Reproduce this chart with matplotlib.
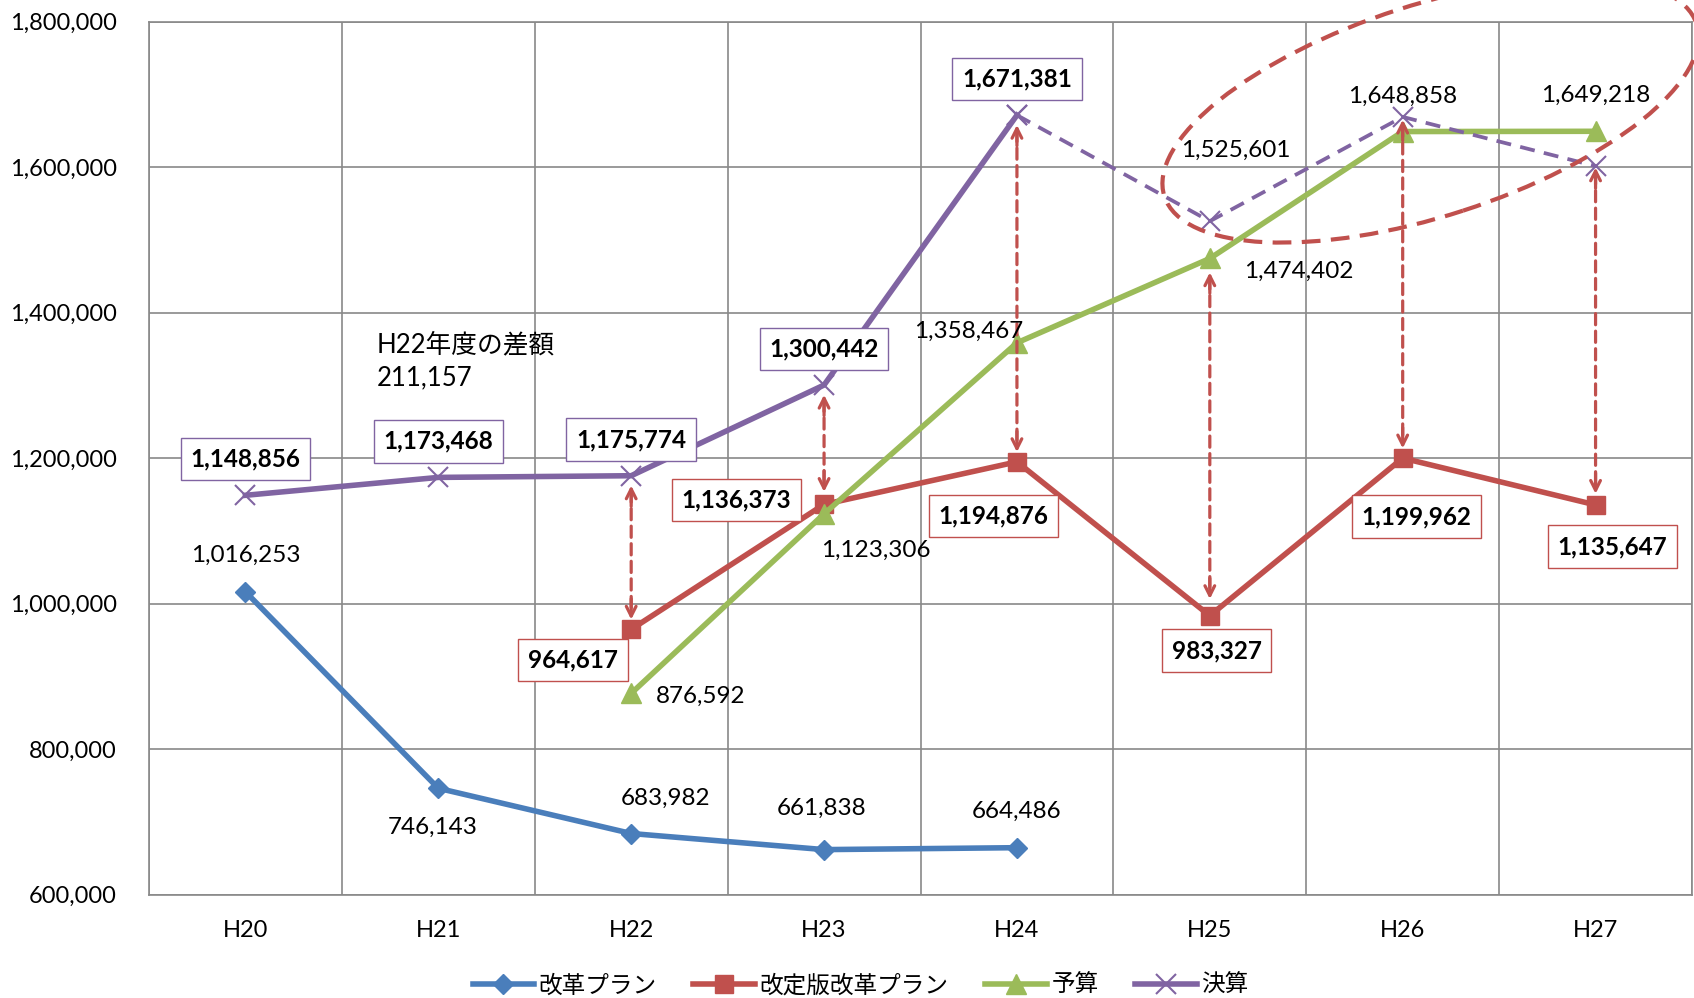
import numpy as np
import matplotlib
matplotlib.use("Agg")
import matplotlib.pyplot as plt
from matplotlib.patches import Ellipse
from matplotlib.lines import Line2D
from matplotlib.transforms import IdentityTransform

plt.rcParams['font.family'] = ['Lato', 'Noto Sans CJK JP', 'DejaVu Sans']

# fiscal years on the x axis
years = ['H20', 'H21', 'H22', 'H23', 'H24', 'H25', 'H26', 'H27']

# 改革プラン (H20-H24)
plan_x = [0, 1, 2, 3, 4]
plan = [1016253, 746143, 683982, 661838, 664486]

# 改定版改革プラン (H22-H27)
rev_x = [2, 3, 4, 5, 6, 7]
revised = [964617, 1136373, 1194876, 983327, 1199962, 1135647]

# 予算 (H22-H27)
bud_x = [2, 3, 4, 5, 6, 7]
budget = [876592, 1123306, 1358467, 1474402, 1648858, 1649218]

# 決算, settled (H20-H24) and projected (H24-H27)
act_x = [0, 1, 2, 3, 4]
actual = [1148856, 1173468, 1175774, 1300442, 1671381]
proj_x = [4, 5, 6, 7]
projected = [1671381, 1525601, 1669000, 1601400]

# gaps marked with double arrows: (x, upper value, lower value, gap top, gap bottom)
gaps = [
    (2, 1175774, 964617, 7, 7),
    (3, 1300442, 1136373, 7, 9),
    (4, 1671381, 1194876, 7, 7),
    (5, 1474402, 983327, 10, 12),
    (6, 1669000, 1199962, 2, 7),
    (7, 1601400, 1135647, 1, 8),
]

BLUE = '#4A7EBB'
RED = '#C0504D'
GREEN = '#9BBB59'
PURPLE = '#8064A2'
GRID = '#898989'
FS = 17
LFS = 17.5

fig = plt.figure(figsize=(16.94, 9.98), dpi=100)
ax = fig.add_axes([149 / 1694, 1 - 894.6 / 998, (1692 - 149) / 1694, (894.6 - 21.6) / 998])

ax.plot(plan_x, plan, color=BLUE, lw=4, marker='D', ms=10, zorder=3)
ax.plot(rev_x, revised, color=RED, lw=4, marker='s', ms=13, zorder=4)
ax.plot(bud_x, budget, color=GREEN, lw=4, marker='^', ms=14, zorder=5)
ax.plot(act_x, actual, color=PURPLE, lw=4, marker='x', ms=15, mew=1.5, zorder=6)
ax.plot(proj_x, projected, color=PURPLE, lw=2.7, ls=(0, (4, 2.5)), marker='x', ms=15, mew=1.5, zorder=6)

ax.set_xlim(-0.5, 7.5)
ax.set_ylim(600000, 1800000)
ax.set_xticks(range(len(years)))
ax.set_xticklabels(years, fontsize=FS)
ax.set_xticks(np.arange(-0.5, 8, 1), minor=True)
yt = np.arange(600000, 1800001, 200000)
ax.set_yticks(yt)
ax.set_yticklabels([f'{v:,}' for v in yt], fontsize=FS)
ax.tick_params(axis='both', which='both', length=0)
ax.tick_params(axis='y', pad=23)
ax.tick_params(axis='x', pad=18)
ax.grid(True, axis='y', color=GRID, lw=1.2)
ax.grid(True, axis='x', which='minor', color=GRID, lw=1.2)
ax.set_axisbelow(True)
for s in ax.spines.values():
    s.set_color(GRID)
    s.set_linewidth(1.2)


def label(x, y, dx, dy, color=None):
    kw = dict(xy=(x, y), xytext=(dx, dy), textcoords='offset points',
              ha='center', va='center', fontsize=LFS, zorder=10)
    if color:
        kw.update(fontweight='bold',
                  bbox=dict(boxstyle='square,pad=0.4', fc='white', ec=color, lw=1))
    ax.annotate(f'{y:,}', **kw)


plan_off = [(0, 26), (-4, -28), (25, 25), (-2, 30), (0, 26)]
for x, v, (dx, dy) in zip(plan_x, plan, plan_off):
    label(x, v, dx, dy)

rev_off = [(-42, -22), (-63, 3), (-17, -39), (5, -25), (10, -42), (12, -30)]
for x, v, (dx, dy) in zip(rev_x, revised, rev_off):
    label(x, v, dx, dy, RED)

bud_off = [(50, -2), (37, -26), (-35, 8), (64, -9), (0, 25), (0, 26)]
for x, v, (dx, dy) in zip(bud_x, budget, bud_off):
    label(x, v, dx, dy)

for x, v in zip(act_x, actual):
    label(x, v, 0, 26, PURPLE)
label(proj_x[1], projected[1], 19, 51)

# dashed double arrows between the series
head = '->,head_length=0.7,head_width=0.35'
for x, hi, lo, ga, gb in gaps:
    ax.annotate('', xy=(x, lo), xytext=(x, hi),
                arrowprops=dict(arrowstyle='-', color=RED, lw=2.3, ls=(0, (3.5, 2)),
                                shrinkA=ga + 4, shrinkB=gb + 4), zorder=8)
    ax.annotate('', xy=(x, lo), xytext=(0, gb + 15), textcoords='offset points',
                arrowprops=dict(arrowstyle=head, color=RED, lw=2.3, shrinkA=0, shrinkB=gb), zorder=8)
    ax.annotate('', xy=(x, hi), xytext=(0, -(ga + 15)), textcoords='offset points',
                arrowprops=dict(arrowstyle=head, color=RED, lw=2.3, shrinkA=0, shrinkB=ga), zorder=8)

ax.text(0.682, 1333600, 'H22年度の差額\n211,157', fontsize=18.5, ha='left', va='center', linespacing=1.4)

# highlight ring around the H25-H27 budget/settlement (pixel units)
ring = Ellipse((1430.5, 887.8), 559.4, 211.2, angle=17.95, transform=IdentityTransform(),
               fill=False, ec=RED, lw=3, ls=(0, (4.5, 2.5)), clip_on=False, zorder=9)
fig.patches.append(ring)

handles = [
    Line2D([], [], color=BLUE, lw=4, marker='D', ms=10),
    Line2D([], [], color=RED, lw=4, marker='s', ms=13),
    Line2D([], [], color=GREEN, lw=4, marker='^', ms=14),
    Line2D([], [], color=PURPLE, lw=4, marker='x', ms=14, mew=1.5),
]
fig.legend(handles, ['改革プラン', '改定版改革プラン', '予算', '決算'], loc='center',
           bbox_to_anchor=(0.508, 0.013), ncol=4, frameon=False, fontsize=17,
           handlelength=2.6, handletextpad=0.2, columnspacing=1.55)

fig.savefig('out.png', dpi=100)
